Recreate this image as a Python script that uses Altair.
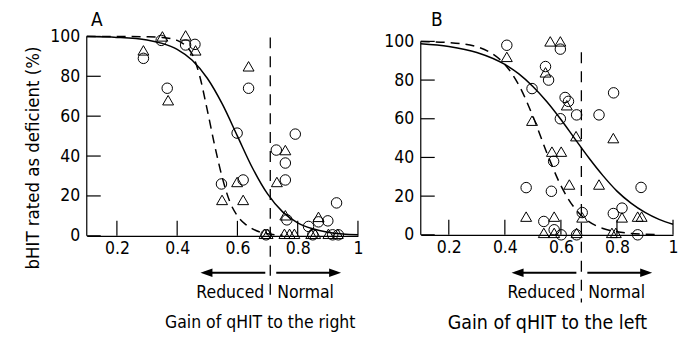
import altair as alt
import pandas as pd

# ---------------- data ----------------
x_ticks = [0.2, 0.4, 0.6, 0.8, 1.0]
y_ticks = [0, 20, 40, 60, 80, 100]

# Panel A: gain of qHIT to the right
a_tri_x = [0.351, 0.288, 0.428, 0.461, 0.370, 0.637, 0.759, 0.731, 0.599, 0.549, 0.619,
           0.759, 0.869, 0.690, 0.700, 0.756, 0.773, 0.789, 0.845, 0.858, 0.902, 0.933]
a_tri_y = [100, 93, 100.5, 93, 68, 85, 43, 27, 27, 18, 18,
           10.3, 9.5, 1, 1, 1, 1, 1, 1, 1, 1, 1]
a_cir_x = [0.347, 0.288, 0.428, 0.459, 0.367, 0.637, 0.599, 0.792, 0.729, 0.759, 0.759,
           0.547, 0.619, 0.929, 0.764, 0.869, 0.900, 0.836, 0.695, 0.850, 0.916, 0.935]
a_cir_y = [98, 89, 95.7, 96, 74, 74, 51.5, 51, 43, 36.5, 28,
           26, 28, 16.5, 8, 7, 7.5, 4.7, 0.5, 0.5, 0.5, 0.5]
a_sol_x = [0.10, 0.20, 0.30, 0.35, 0.40, 0.45, 0.50, 0.55, 0.60, 0.65, 0.70, 0.75, 0.80,
           0.85, 0.90, 0.95, 1.00]
a_sol_y = [99.9, 99.5, 98.2, 96.5, 93.5, 88, 79, 66, 50, 34, 21, 12, 6.5, 3.5, 1.8, 0.9, 0.5]
a_dsh_x = [0.10, 0.20, 0.30, 0.35, 0.40, 0.43, 0.45, 0.475, 0.50, 0.525, 0.55, 0.575, 0.60,
           0.625, 0.65, 0.70, 0.75]
a_dsh_y = [100, 100, 99.8, 99.5, 98, 95, 91, 80, 63, 45, 29, 17, 10, 6, 3.5, 1, 0.3]
a_cut = 0.709

# Panel B: gain of qHIT to the left
b_tri_x = [0.407, 0.562, 0.598, 0.545, 0.497, 0.621, 0.654, 0.787, 0.568, 0.601, 0.630, 0.736,
           0.476, 0.576, 0.676, 0.818, 0.874, 0.888, 0.539, 0.576, 0.656, 0.782, 0.796]
b_tri_y = [92, 100, 100, 84, 59, 67, 51, 50, 43, 43, 26, 26,
           9.4, 9.4, 9, 9, 9.4, 9.4, 1, 1, 1, 1, 1]
b_cir_x = [0.407, 0.598, 0.545, 0.556, 0.497, 0.598, 0.615, 0.627, 0.656, 0.736, 0.788, 0.574,
           0.566, 0.476, 0.886, 0.676, 0.787, 0.818, 0.539, 0.576, 0.601, 0.656, 0.874]
b_cir_y = [98, 96, 87, 80, 75.6, 60, 71, 69, 62, 62, 73.4, 38,
           22.5, 24.4, 24.5, 11.5, 11, 13.8, 6.9, 2.6, 0, 0, 0]
b_sol_x = [0.10, 0.20, 0.30, 0.40, 0.45, 0.50, 0.55, 0.60, 0.65, 0.70, 0.75, 0.80, 0.85,
           0.90, 0.95, 1.00]
b_sol_y = [98.8, 97.4, 94.3, 88.1, 83.2, 76.7, 68.8, 59.6, 49.6, 39.7, 30.6, 22.6, 16.4,
           11.6, 8.0, 5.5]
b_dsh_x = [0.10, 0.20, 0.30, 0.35, 0.40, 0.45, 0.50, 0.55, 0.60, 0.65, 0.70, 0.75, 0.80,
           0.85, 0.90, 0.95]
b_dsh_y = [99.9, 99.4, 97.2, 94.1, 88.1, 77.4, 61.3, 42.3, 25.4, 13.6, 6.8, 3.3, 1.6,
           0.7, 0.35, 0.15]
b_cut = 0.673

FONT = "DejaVu Sans Condensed"
FS = 17.5


def panel(letter, letter_x, tri_x, tri_y, cir_x, cir_y, sol_x, sol_y,
          dsh_x, dsh_y, cut, cut_top, w, h, ymax,
          xtitle, xtitle_x, xtitle_fs, ytitle=None):
    # vertical positions are measured from the shared top of the plot areas
    xs = alt.Scale(domain=[0.1, 1], nice=False, zero=False)
    ys = alt.Scale(domain=[0, ymax], nice=False, zero=False)
    xax = alt.Axis(values=x_ticks, format="~g", ticks=False, grid=False, title=None,
                   labelFont=FONT, labelFontSize=FS, labelColor="black", labelPadding=4,
                   labelFlush=False, labelOverlap=False, domainColor="black", domainWidth=1.2)
    yax = alt.Axis(values=y_ticks, ticks=False, grid=False, title=None, domain=False,
                   labelFont=FONT, labelFontSize=FS, labelColor="black", labelPadding=7,
                   labelFlush=False, labelOverlap=False)
    X = alt.X("x:Q", scale=xs, axis=xax)
    Y = alt.Y("y:Q", scale=ys, axis=yax)
    XC = alt.datum(cut, scale=xs, axis=xax)

    layers = []
    layers.append(alt.Chart(pd.DataFrame({"x": sol_x, "y": sol_y})).mark_line(
        color="black", strokeWidth=1.5, interpolate="monotone").encode(x=X, y=Y))
    layers.append(alt.Chart(pd.DataFrame({"x": dsh_x, "y": dsh_y})).mark_line(
        color="black", strokeWidth=1.5, strokeDash=[9, 6], interpolate="monotone").encode(x=X, y=Y))
    layers.append(alt.Chart(pd.DataFrame({"x": tri_x, "y": tri_y})).mark_point(
        shape="triangle-up", filled=False, color="black", size=120, strokeWidth=1,
        opacity=1).encode(x=X, y=Y))
    layers.append(alt.Chart(pd.DataFrame({"x": cir_x, "y": cir_y})).mark_point(
        shape="circle", filled=False, color="black", size=110, strokeWidth=1,
        opacity=1).encode(x=X, y=Y))
    # y axis line (0 to 100)
    layers.append(alt.Chart(pd.DataFrame({"y": [y_ticks[0]], "y2": [y_ticks[-1]]})).mark_rule(
        color="black", strokeWidth=1.2).encode(x=alt.value(0), y=Y, y2="y2:Q"))
    # inward ticks
    layers.append(alt.Chart(pd.DataFrame({"x": x_ticks})).mark_rule(
        color="black", strokeWidth=1.2).encode(x=X, y=alt.value(h), y2=alt.value(h - 15)))
    layers.append(alt.Chart(pd.DataFrame({"y": y_ticks})).mark_rule(
        color="black", strokeWidth=1.2).encode(y=Y, x=alt.value(0), x2=alt.value(14)))
    # cut-off line
    layers.append(alt.Chart().mark_rule(color="black", strokeWidth=1.3, strokeDash=[11, 8]).encode(
        x=XC, y=alt.value(cut_top), y2=alt.value(267)))
    # arrows (offsets in pixels from the cut-off line)
    ay = 237
    layers.append(alt.Chart().mark_rule(color="black", strokeWidth=2, xOffset=-66,
                                        x2Offset=-5).encode(x=XC, x2=alt.datum(cut), y=alt.value(ay)))
    layers.append(alt.Chart().mark_rule(color="black", strokeWidth=2, xOffset=6,
                                        x2Offset=67).encode(x=XC, x2=alt.datum(cut), y=alt.value(ay)))
    layers.append(alt.Chart().mark_point(
        shape="M0,0L2,-0.7L2,0.7Z", filled=True, color="black", size=144, opacity=1,
        xOffset=-70).encode(x=XC, y=alt.value(ay)))
    layers.append(alt.Chart().mark_point(
        shape="M0,0L-2,-0.7L-2,0.7Z", filled=True, color="black", size=144, opacity=1,
        xOffset=71).encode(x=XC, y=alt.value(ay)))
    # labels
    layers.append(alt.Chart().mark_text(text="Reduced", align="right", baseline="middle",
                                        font=FONT, fontSize=FS, dx=-6, color="black").encode(
        x=XC, y=alt.value(257)))
    layers.append(alt.Chart().mark_text(text="Normal", align="left", baseline="middle",
                                        font=FONT, fontSize=FS, dx=7, color="black").encode(
        x=XC, y=alt.value(257)))
    layers.append(alt.Chart().mark_text(text=xtitle, align="center", baseline="middle",
                                        font=FONT, fontSize=xtitle_fs, color="black").encode(
        x=alt.value(xtitle_x), y=alt.value(287)))
    layers.append(alt.Chart().mark_text(text=letter, align="center", baseline="top",
                                        font=FONT, fontSize=19, color="black").encode(
        x=alt.value(letter_x), y=alt.value(-25)))
    if ytitle:
        layers.append(alt.Chart().mark_text(text=ytitle, align="center", baseline="middle",
                                            angle=270, font=FONT, fontSize=18.5,
                                            color="black").encode(
            x=alt.value(-54), y=alt.value(122)))
    return alt.layer(*layers).properties(width=w, height=h)


pa = panel("A", 10, a_tri_x, a_tri_y, a_cir_x, a_cir_y, a_sol_x, a_sol_y,
           a_dsh_x, a_dsh_y, a_cut, 1, 272, 200, 100,
           "Gain of qHIT to the right", 174, FS, ytitle="bHIT rated as deficient (%)")
pb = panel("B", 16, b_tri_x, b_tri_y, b_cir_x, b_cir_y, b_sol_x, b_sol_y,
           b_dsh_x, b_dsh_y, b_cut, 16, 253, 199, 102.58,
           "Gain of qHIT to the left", 127, 19.5)

chart = alt.hconcat(pa, pb, spacing=19).configure_view(stroke=None).properties(
    padding={"left": 15, "top": 3, "right": 0, "bottom": 0})

chart.save("out.html", embed_options={"renderer": "svg", "actions": False})
